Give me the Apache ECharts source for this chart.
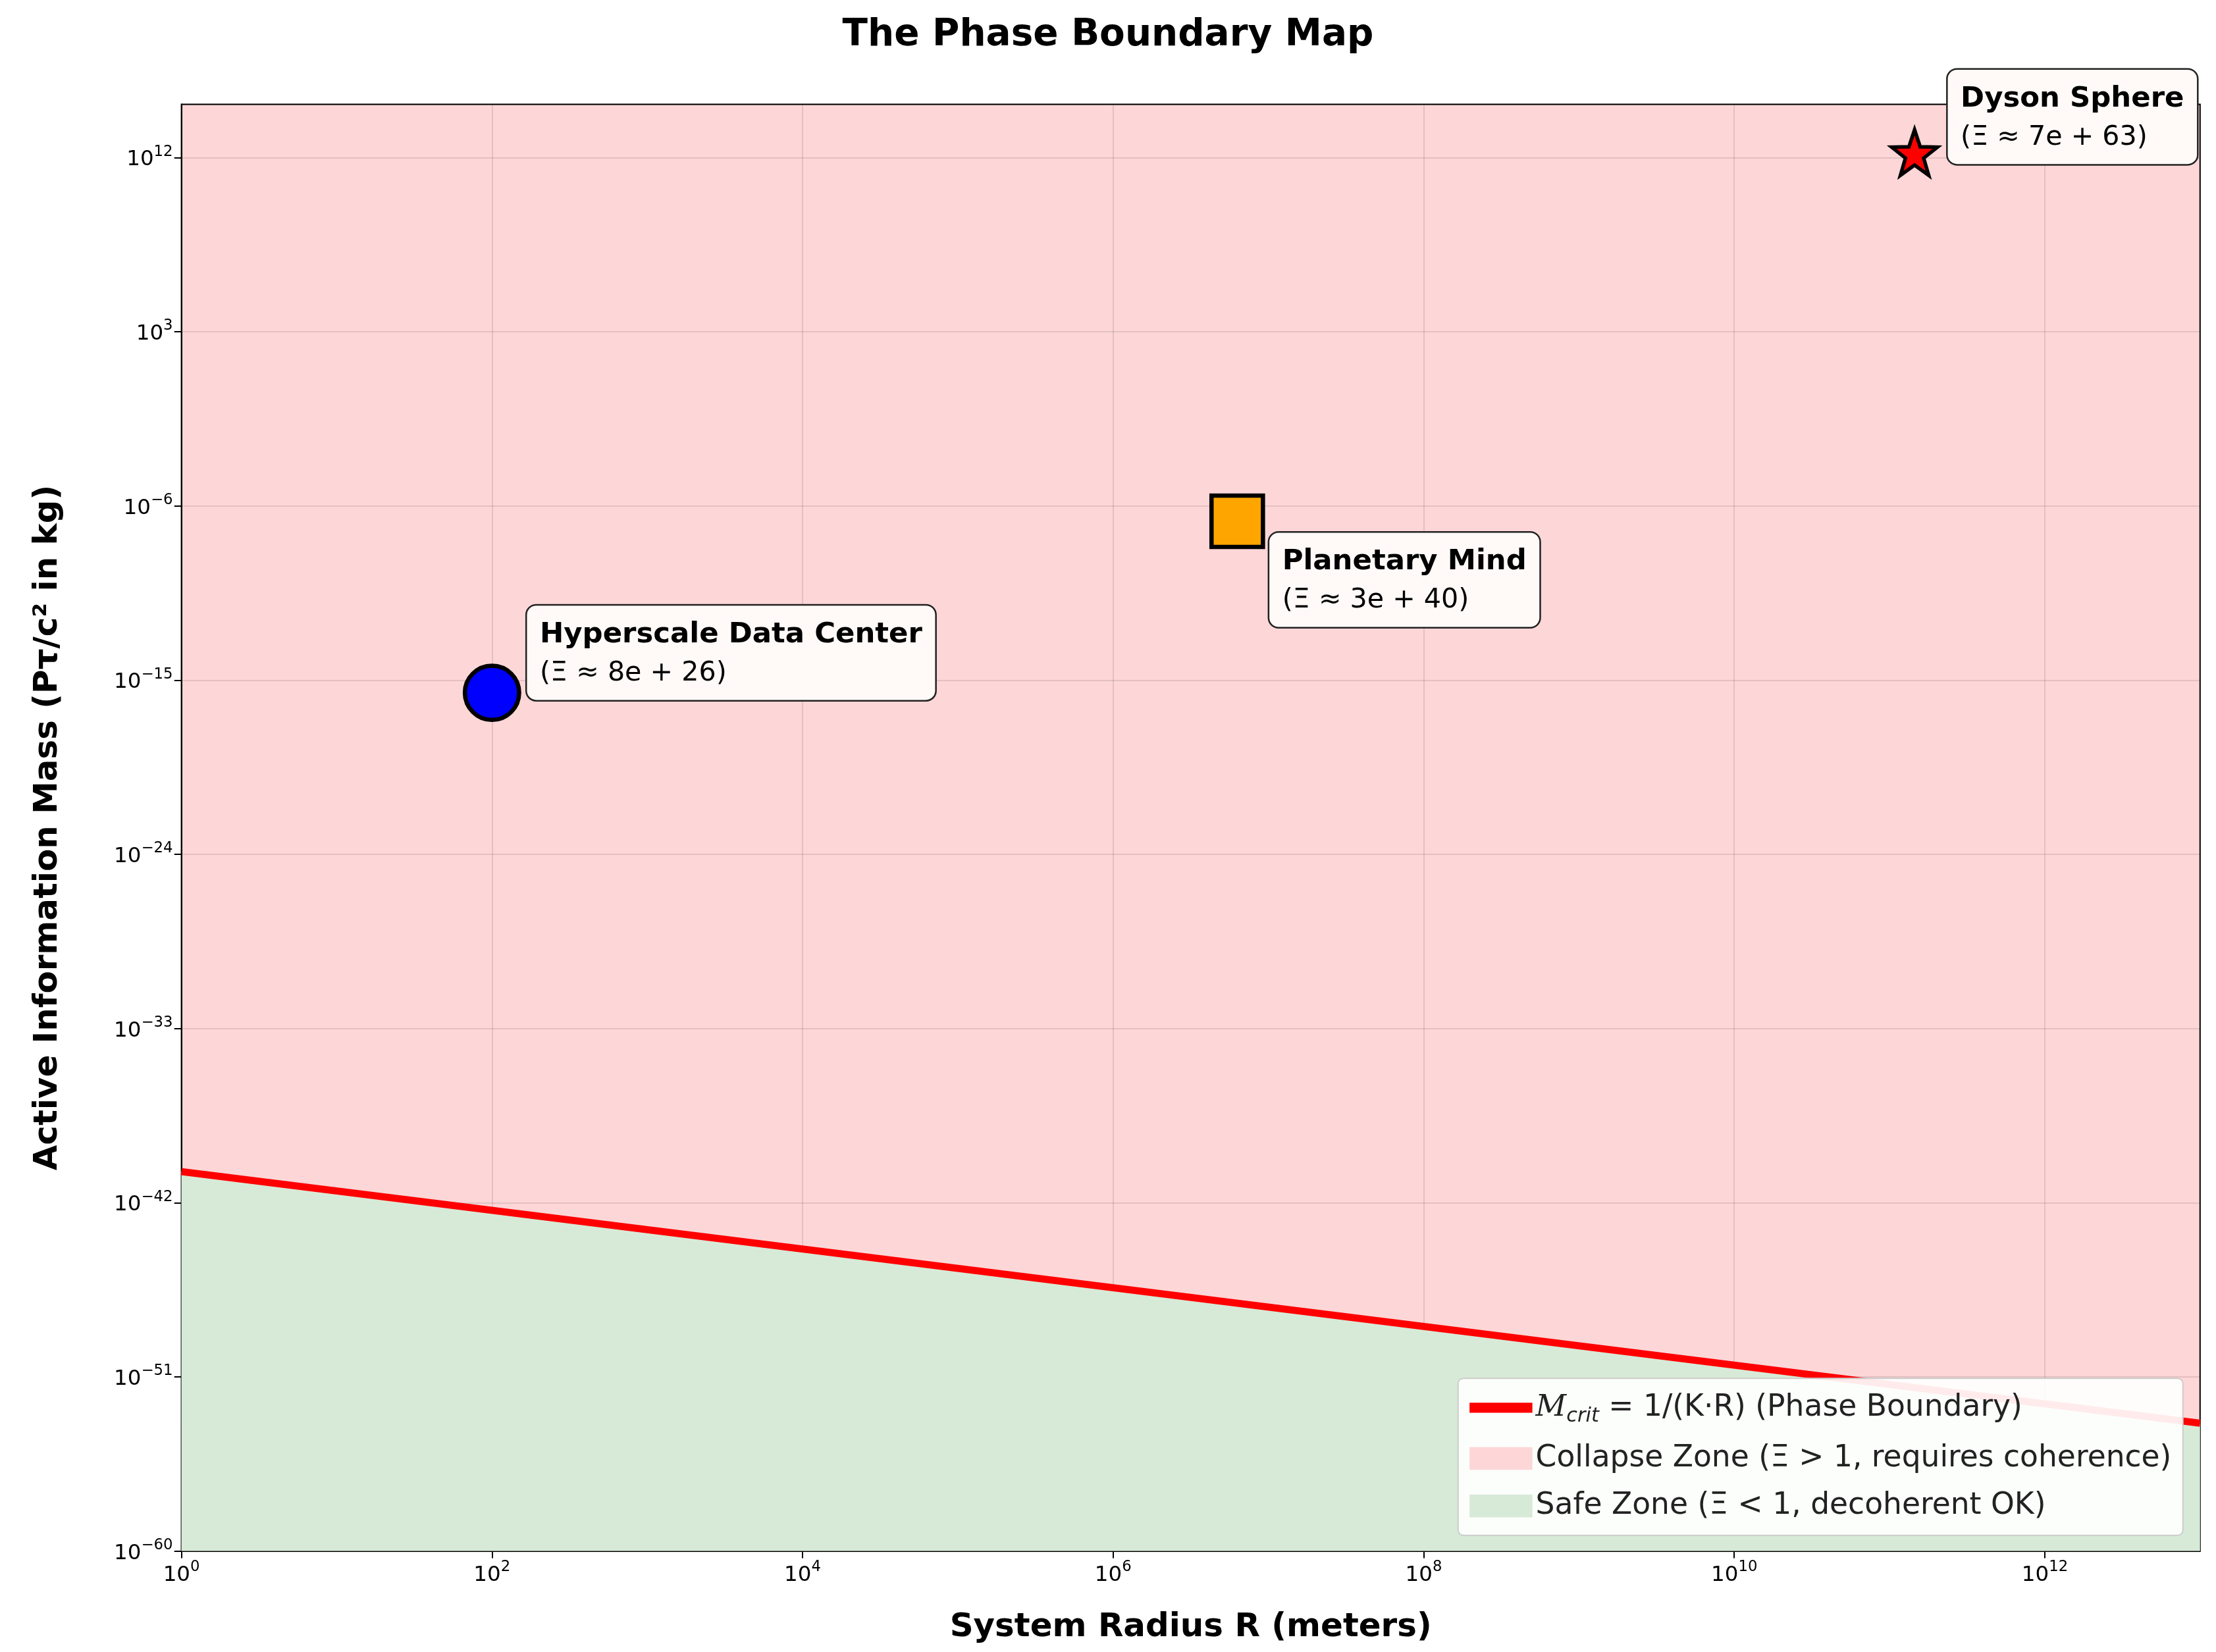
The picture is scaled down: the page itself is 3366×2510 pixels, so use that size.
<!DOCTYPE html>
<html>
<head>
<meta charset="utf-8">
<script src="https://cdn.jsdelivr.net/npm/echarts@6/dist/echarts.min.js"></script>
<style>html,body{margin:0;padding:0;background:#fff}#main{width:3366px;height:2510px}</style>
</head>
<body>
<div id="main"></div>
<script>
// boundary M_crit = 1/(K*R)
var boundaryR = [1, 1e13];
var boundaryM = [4e-41, 4e-54];
// systems
var sysNames = ['Hyperscale Data Center', 'Planetary Mind', 'Dyson Sphere'];
var sysXi = ['8e + 26', '3e + 40', '7e + 63'];
var sysR = [1e2, 6.3e6, 1.45e11];
var sysM = [2.2e-16, 1.6e-7, 1.8e12];

var S = 2.17;
var lg = Math.log10;
function pow10(e) {
  return '{b|10}{e|' + String(Math.round(e)).replace('-', '−') + '}';
}
var tickRich = {
  b: {fontFamily: 'DejaVu Sans', fontSize: 15 * S, color: '#000', verticalAlign: 'bottom'},
  e: {fontFamily: 'DejaVu Sans', fontSize: 10.5 * S, color: '#000', verticalAlign: 'top', padding: [0, 0, 8 * S, 0]}
};
var star = 'path://M0,-10L2.35,-3.24L9.51,-3.09L3.8,1.24L5.88,8.09L0,4L-5.88,8.09L-3.8,1.24L-9.51,-3.09L-2.35,-3.24Z';

function sysLabel(i, offset, dist) {
  return {
    show: true, position: 'right', distance: dist * S, offset: offset,
    formatter: '{b|' + sysNames[i] + '}\n{n|(Ξ ≈ ' + sysXi[i] + ')}',
    backgroundColor: '#fffaf8', borderColor: '#222', borderWidth: 2.5, borderRadius: 14,
    padding: [7 * S, 9 * S, 5 * S, 9 * S],
    rich: {
      b: {fontFamily: 'DejaVu Sans', fontWeight: 'bold', fontSize: 20 * S, color: '#000', lineHeight: 27 * S},
      n: {fontFamily: 'DejaVu Sans', fontSize: 19 * S, color: '#000', lineHeight: 27 * S}
    }
  };
}

var yMin = -60, yMax = 14.75;
var chart = echarts.init(document.getElementById('main'));
chart.setOption({
  animation: false,
  title: {text: 'The Phase Boundary Map', left: 'center', top: 10 * S,
    textStyle: {fontFamily: 'DejaVu Sans', fontWeight: 'bold', fontSize: 26 * S, color: '#000'}},
  grid: {left: 127 * S, right: 3366 - 1540 * S, top: 73 * S, bottom: 2510 - 1086 * S,
    show: true, backgroundColor: '#fdd6d7', borderColor: '#000', borderWidth: 2},
  legend: {
    z: 20, zlevel: 1,
    right: 3366 - 1528 * S, bottom: 2510 - 1075 * S, orient: 'vertical', itemGap: 12 * S,
    backgroundColor: 'rgba(255,255,255,0.92)', borderColor: '#ccc', borderWidth: 2, borderRadius: 8,
    padding: [10 * S, 8 * S], itemWidth: 44 * S, itemHeight: 16 * S,
    data: [
      {name: 'M_crit', icon: 'path://M0,0H10V1.6H0Z'},
      {name: 'Collapse Zone (Ξ > 1, requires coherence)', icon: 'rect'},
      {name: 'Safe Zone (Ξ < 1, decoherent OK)', icon: 'rect'}
    ],
    formatter: function (n) {
      return n === 'M_crit' ? '{i|M}{s|crit}{t| = 1/(K·R) (Phase Boundary)}' : n;
    },
    textStyle: {fontFamily: 'DejaVu Sans', fontSize: 21 * S, color: '#222',
      rich: {i: {fontStyle: 'italic', fontSize: 21 * S, fontFamily: 'DejaVu Serif'},
        s: {fontStyle: 'italic', fontSize: 14 * S, verticalAlign: 'bottom', padding: [12 * S, 0, 0, 0]},
        t: {fontSize: 21 * S, fontFamily: 'DejaVu Sans'}}}
  },
  xAxis: {
    type: 'value', min: 0, max: 13, interval: 2,
    name: 'System Radius R (meters)', nameLocation: 'middle', nameGap: 42 * S,
    nameTextStyle: {fontFamily: 'DejaVu Sans', fontWeight: 'bold', fontSize: 23 * S, color: '#000'},
    axisLine: {onZero: false, lineStyle: {color: '#000', width: 2}},
    axisTick: {show: true, length: 5 * S, lineStyle: {color: '#000', width: 2}},
    splitLine: {show: true, lineStyle: {color: 'rgba(0,0,0,0.1)', width: 2}},
    axisLabel: {margin: 6 * S, showMaxLabel: false, rich: tickRich, formatter: pow10}
  },
  yAxis: {
    type: 'value', min: yMin, max: yMax, interval: 9,
    name: 'Active Information Mass (Pτ/c² in kg)', nameLocation: 'middle', nameGap: 82 * S,
    nameTextStyle: {fontFamily: 'DejaVu Sans', fontWeight: 'bold', fontSize: 23 * S, color: '#000'},
    axisLine: {show: true, onZero: false, lineStyle: {color: '#000', width: 2}},
    axisTick: {show: true, length: 5 * S, lineStyle: {color: '#000', width: 2}},
    splitLine: {show: true, lineStyle: {color: 'rgba(0,0,0,0.1)', width: 2}},
    axisLabel: {margin: 6 * S, showMaxLabel: false, rich: tickRich,
      formatter: function (v) { return v > 13 ? '' : pow10(v); }}
  },
  series: [
    {name: 'Collapse Zone (Ξ > 1, requires coherence)', type: 'line', data: [], itemStyle: {color: '#fdd6d7'},
      lineStyle: {width: 0}},
    {name: 'Safe Zone (Ξ < 1, decoherent OK)', type: 'line', data: [], itemStyle: {color: '#d7ead7'},
      lineStyle: {width: 0}},
    {name: 'M_crit', type: 'line', symbol: 'none',
      data: boundaryR.map(function (r, i) { return [lg(r), lg(boundaryM[i])]; }),
      lineStyle: {color: '#ff0000', width: 5 * S}, itemStyle: {color: '#ff0000'},
      areaStyle: {color: '#d7ead7', opacity: 1, origin: 'start'}},
    {type: 'scatter', data: [{name: sysNames[0], value: [lg(sysR[0]), lg(sysM[0])], label: sysLabel(0, [0, -28 * S], 4)}],
      symbol: 'circle', symbolSize: 38 * S, itemStyle: {color: '#0000ff', borderColor: '#000', borderWidth: 3 * S, opacity: 1}},
    {type: 'scatter', data: [{name: sysNames[1], value: [lg(sysR[1]), lg(sysM[1])], label: sysLabel(1, [0, 41 * S], 3)}],
      symbol: 'rect', symbolSize: 36 * S, itemStyle: {color: '#ffa500', borderColor: '#000', borderWidth: 3 * S, opacity: 1}},
    {type: 'scatter', data: [{name: sysNames[2], value: [lg(sysR[2]), lg(sysM[2])], label: sysLabel(2, [0, -25 * S], 6)}],
      symbol: star, symbolSize: 32 * S, itemStyle: {color: '#ff0000', borderColor: '#000', borderWidth: 2.5 * S, opacity: 1}}
  ]
});
</script>
</body>
</html>
